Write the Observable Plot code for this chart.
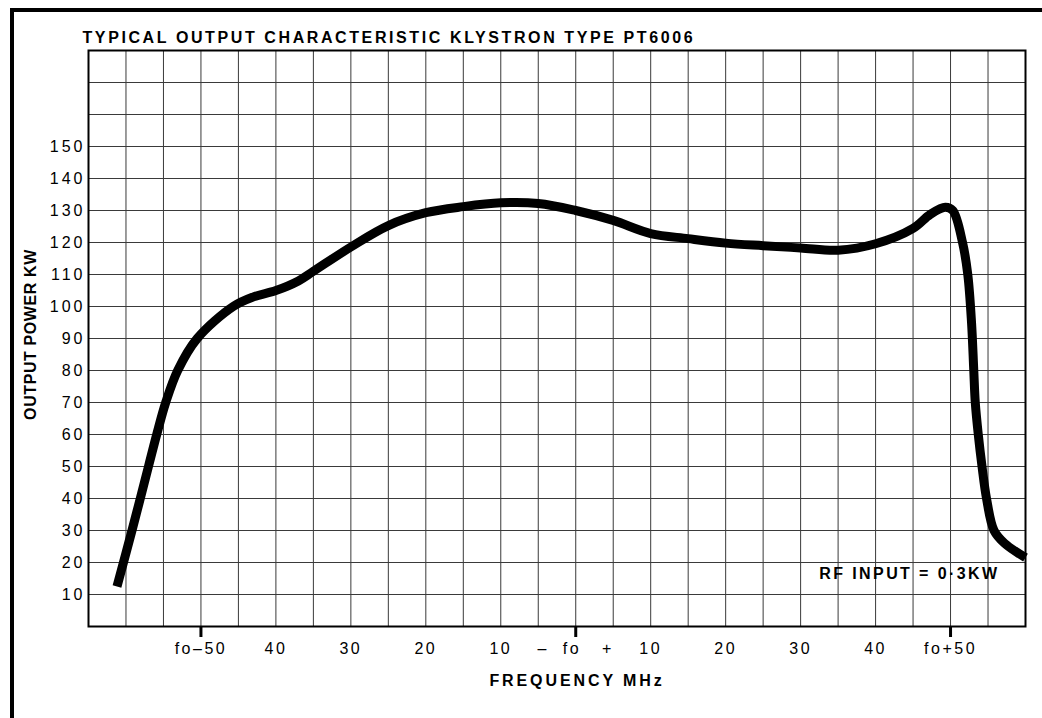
<!DOCTYPE html>
<html>
<head>
<meta charset="utf-8">
<script src="https://cdn.jsdelivr.net/npm/d3@7"></script>
<script src="https://cdn.jsdelivr.net/npm/@observablehq/plot@0.6"></script>
<style>
  html, body { margin: 0; padding: 0; background: white; overflow: hidden; }
  #wrap { position: relative; width: 1042px; height: 718px; }
  #border { position: absolute; left: 10px; top: 8px; right: 0; bottom: 0;
            border-top: 4px solid black; border-left: 4px solid black; pointer-events: none; }
  g[aria-label="y-axis tick label"] text { letter-spacing: 3px; }
  g[aria-label="x-axis tick label"] text { letter-spacing: 2.5px; }
</style>
</head>
<body>
<div id="wrap"><div id="border"></div></div>
<script>
// Curve (MHz offset from fo, output power kW)
const freq  = [-61.2, -59.2, -57.0, -55.9, -54.7, -53.1, -50.5, -45.7, -43, -40, -37, -35, -30, -25, -20, -15, -10, -5, 0, 5, 10, 15, 20, 25, 30, 35, 40, 45, 47.3, 49.3, 50.3, 51.6, 52.3, 52.8, 53.1, 53.3, 53.7, 54.2, 54.8, 55.8, 57.2, 60];
const power = [12.5, 30, 50, 60, 70, 80, 90, 100, 103, 105, 108, 111, 118.6, 125.3, 129.3, 131.2, 132.4, 132.2, 130, 126.9, 122.8, 121.2, 119.8, 119, 118.3, 117.6, 119.6, 124.4, 128.8, 131, 130, 120, 110, 95, 80, 70, 60, 50, 40, 30, 26, 21.5];

const yTicks = [10, 20, 30, 40, 50, 60, 70, 80, 90, 100, 110, 120, 130, 140, 150];
const xTickValues = [-50, -40, -30, -20, -10, 0, 10, 20, 30, 40, 50];
const xTickLabels = ["fo\u201350", "40", "30", "20", "10", "\u2013\u00a0\u00a0fo\u00a0\u00a0\u00a0+", "10", "20", "30", "40", "fo+50"];
const majorTicks = [-50, 0, 50];
const gridX = [-65, -60, -55, -50, -45, -40, -35, -30, -25, -20, -15, -10, -5, 0, 5, 10, 15, 20, 25, 30, 35, 40, 45, 50, 55, 60];
const gridY = [10, 20, 30, 40, 50, 60, 70, 80, 90, 100, 110, 120, 130, 140, 150, 160, 170];

const titleText = "TYPICAL OUTPUT CHARACTERISTIC KLYSTRON TYPE PT6006";
const xLabel = "FREQUENCY MHz";
const yLabel = "OUTPUT POWER KW";
const note = "RF INPUT = 0\u00b73KW";

const points = freq.map((f, i) => ({f, p: power[i]}));
const labelMap = new Map(xTickValues.map((v, i) => [v, xTickLabels[i]]));
const spacing = new Map([[titleText, "2.6px"], [yLabel, "0.6px"], [xLabel, "2.9px"], [note, "2.4px"]]);

const chart = Plot.plot({
  width: 1042,
  height: 718,
  marginLeft: 88,
  marginRight: 17,
  marginTop: 50,
  marginBottom: 92,
  x: {domain: [-65, 60]},
  y: {domain: [0, 180]},
  style: {fontFamily: "'Liberation Sans', Arial, sans-serif", fontSize: "16px", color: "black", background: "transparent"},
  marks: [
    Plot.ruleX(gridX, {stroke: "#3a3a3a", strokeWidth: 1}),
    Plot.ruleY(gridY, {stroke: "#3a3a3a", strokeWidth: 1}),
    Plot.frame({stroke: "black", strokeWidth: 2}),
    Plot.axisY(yTicks, {tickSize: 0, tickPadding: 3, fontSize: 16, label: null}),
    Plot.axisX(xTickValues, {tickSize: 0, tickPadding: 16, fontSize: 16, tickFormat: d => labelMap.get(d), label: null}),
    Plot.axisX(majorTicks, {tickSize: 11, strokeWidth: 3, tickFormat: () => "", label: null}),
    Plot.line(points, {x: "f", y: "p", curve: "catmull-rom", stroke: "black", strokeWidth: 9, strokeLinecap: "butt", strokeLinejoin: "round"}),
    Plot.text([titleText], {frameAnchor: "top-left", dx: -6, dy: -8, lineAnchor: "bottom", textAnchor: "start", fontWeight: "bold", fontSize: 16}),
    Plot.text([yLabel], {frameAnchor: "left", dx: -58, dy: -4, rotate: -90, textAnchor: "middle", fontWeight: "bold", fontSize: 16}),
    Plot.text([xLabel], {frameAnchor: "bottom", dx: 20, dy: 59, fontWeight: "bold", fontSize: 16}),
    Plot.text([note], {frameAnchor: "bottom-right", dx: -26, dy: -48, textAnchor: "end", fontWeight: "bold", fontSize: 16})
  ]
});
document.getElementById("wrap").prepend(chart);

d3.select(chart).selectAll("g[aria-label='text'] text").each(function() {
  const s = spacing.get(d3.select(this).text());
  if (s) d3.select(this).style("letter-spacing", s);
});
</script>
</body>
</html>
